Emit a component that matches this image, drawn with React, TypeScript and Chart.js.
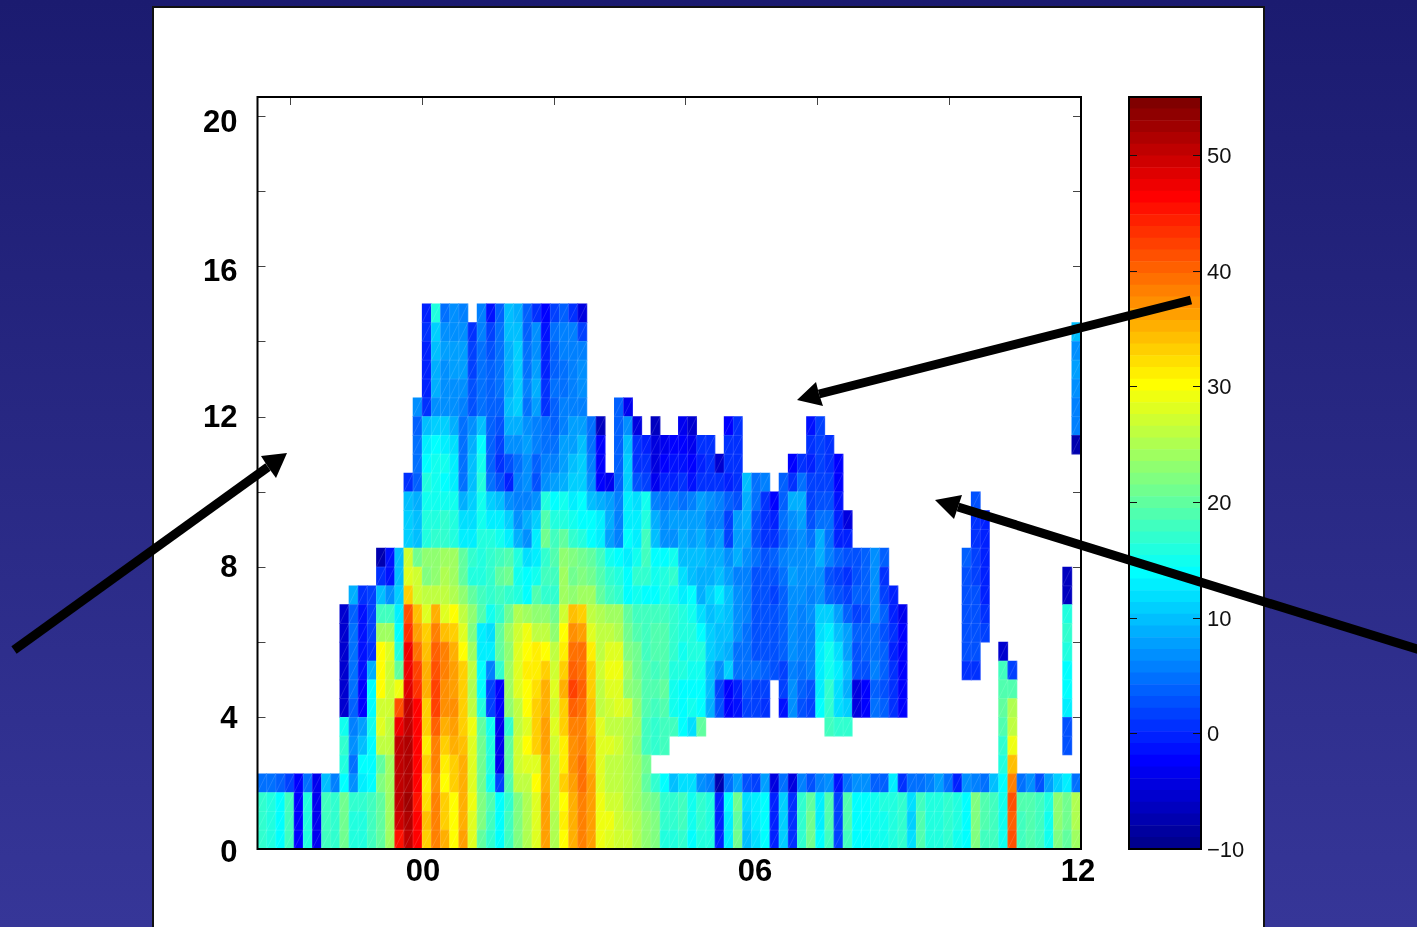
import React, { useEffect, useRef } from "react";
import { Chart, registerables } from "chart.js";

Chart.register(...registerables);

const _ = null;

// Reflectivity (dBZ) per height bin, lowest bin first, 90 time columns each.
const row00 = [17,16,14,18,-2,16,-3,18,17,21, 16,16,18,20,24,45,50,46,33,38, 35,30,36,28,20,17,14,18,22,25, 28,36,25,30,35,38,36,29,28,27, 27,25,23,22,16,16,17,14,16,16, 0,13,21,10,12,14,0,11,1,17, 21,14,18,2,18,14,14,15,15,16, 17,12,19,16,16,17,15,14,22,18, 18,15,41,18,19,18,15,22,20,24];
const row01 = [17,16,14,18,-2,16,-3,18,17,21, 16,16,18,20,24,49,51,46,34,38, 33,30,35,28,22,18,14,18,22,25, 28,36,25,31,35,38,36,29,29,27, 26,25,23,22,17,17,18,15,17,16, 0,13,20,11,13,14,0,11,1,17, 21,13,19,2,19,14,14,15,15,16, 17,11,19,16,16,17,16,14,22,19, 18,15,40,18,19,18,15,23,21,25];
const row02 = [17,16,14,18,-2,16,-3,18,17,21, 17,17,18,20,24,50,52,45,32,38, 33,30,35,29,22,19,14,17,22,25, 28,36,26,30,35,38,36,29,27,27, 25,24,22,21,17,17,18,15,17,16, 0,14,21,12,13,14,0,11,1,17, 20,13,19,2,19,14,14,15,16,16, 17,12,18,16,16,17,16,14,22,19, 18,15,41,19,19,18,16,23,21,25];
const row03 = [5,5,4,2,-2,5,-3,10,6,14, 7,13,14,22,24,50,51,46,31,37, 30,33,35,28,21,15,2,19,26,26, 30,35,26,33,36,39,36,28,26,26, 25,24,20,17,14,10,12,12,7,6, -7,5,8,3,2,8,-4,5,-4,6, 3,6,7,-1,5,7,7,4,4,13, 1,5,5,6,8,5,0,7,6,5, 10,14,38,5,7,3,8,11,13,5];
const row04 = [_,_,_,_,_,_,_,_,_,16, 5,14,14,20,24,50,51,46,33,38, 31,33,35,28,21,16,-3,20,27,28, 28,35,26,31,37,39,35,28,26,26, 25,24,21,_,_,_,_,_,_,_, _,_,_,_,_,_,_,_,_,_, _,_,_,_,_,_,_,_,_,_, _,_,_,_,_,_,_,_,_,_, _,16,34,_,_,_,_,_,_,_];
const row05 = [_,_,_,_,_,_,_,_,_,17, 7,10,14,26,26,50,51,46,31,38, 33,35,34,28,21,16,-3,20,27,30, 33,36,27,31,37,38,35,28,28,27, 25,23,18,17,18,_,_,_,_,_, _,_,_,_,_,_,_,_,_,_, _,_,_,_,_,_,_,_,_,_, _,_,_,_,_,_,_,_,_,_, _,17,29,_,_,_,_,_,3,_];
const row06 = [_,_,_,_,_,_,_,_,_,15, 6,8,15,28,26,47,50,46,33,40, 35,36,33,29,20,15,-3,17,26,28, 33,36,28,33,38,38,34,28,26,26, 25,24,18,17,18,18,14,12,20,_, _,_,_,_,_,_,_,_,_,_, _,_,18,17,17,_,_,_,_,_, _,_,_,_,_,_,_,_,_,_, _,19,26,_,_,_,_,_,3,_];
const row07 = [_,_,_,_,_,_,_,_,_,-5, 4,-2,14,27,27,41,50,46,33,42, 37,37,33,26,16,2,-2,23,26,30, 33,35,27,33,40,39,34,26,27,28, 27,23,19,18,19,15,14,15,14,9, 3,-2,-1,2,2,1,_,-1,7,3, 2,14,17,12,11,-4,-2,5,4,1, -2,_,_,_,_,_,_,_,_,_, _,20,25,_,_,_,_,_,13,_];
const row08 = [_,_,_,_,_,_,_,_,_,-5, 5,-2,14,30,27,29,48,43,35,42, 37,36,33,25,14,2,-2,24,28,30, 32,35,28,35,42,40,33,26,28,28, 23,22,19,19,20,15,14,14,14,10, 2,-2,0,3,2,2,_,2,7,4, 3,13,17,12,9,-4,-2,4,3,1, -2,_,_,_,_,_,_,_,_,_, _,19,19,_,_,_,_,_,14,_];
const row09 = [_,_,_,_,_,_,_,_,_,-5, 5,-1,9,30,27,20,47,42,35,41, 38,36,33,26,14,6,17,24,28,31, 31,33,27,33,40,39,33,27,29,29, 24,21,19,18,19,16,16,15,15,10, 7,11,5,5,5,4,3,2,6,5, 6,13,15,13,10,3,3,6,4,1, -2,_,_,_,_,_,_,1,1,_, _,18,2,_,_,_,_,_,14,_];
const row10 = [_,_,_,_,_,_,_,_,_,-5, 5,-1,1,30,28,16,47,39,34,40, 38,35,30,24,13,13,20,23,28,30, 31,30,26,31,39,39,31,26,28,28, 22,21,18,19,19,17,15,16,16,11, 10,9,5,5,3,3,3,4,7,6, 6,13,15,12,8,3,4,5,4,0, -2,_,_,_,_,_,_,3,3,_, _,-5,_,_,_,_,_,_,16,_];
const row11 = [_,_,_,_,_,_,_,_,_,-5, 5,-1,2,24,24,14,43,36,33,38, 34,33,28,22,13,12,20,24,27,29, 26,26,23,30,37,36,28,26,26,25, 21,19,18,19,19,17,16,16,14,11, 10,10,7,5,3,3,3,4,7,6, 6,12,13,10,8,4,4,5,3,1, -2,_,_,_,_,_,_,3,3,2, _,_,_,_,_,_,_,_,17,_];
const row12 = [_,_,_,_,_,_,_,_,_,-5, 4,-1,2,18,18,13,41,34,28,35, 28,30,26,23,19,15,17,21,25,24, 23,23,21,27,34,33,26,25,24,24, 20,18,18,18,18,17,16,15,12,10, 11,10,7,6,3,3,3,4,7,6, 7,11,11,8,4,2,3,7,4,0, -3,_,_,_,_,_,_,3,3,1, _,_,_,_,_,_,_,_,16,_];
const row13 = [_,_,_,_,_,_,_,_,_,_, 9,1,2,10,7,11,33,27,26,26, 26,25,23,20,18,17,18,17,16,14, 19,17,17,24,23,24,24,20,18,17, 14,15,14,14,16,15,13,14,9,11, 13,10,7,6,3,3,2,4,7,7, 6,7,4,3,2,4,4,7,2,0, _,_,_,_,_,_,_,3,3,0, _,_,_,_,_,_,_,_,-6,_];
const row14 = [_,_,_,_,_,_,_,_,_,_, _,_,_,1,-1,10,28,27,22,23, 25,24,20,16,16,17,20,21,15,14, 15,18,18,24,21,22,21,19,17,16, 14,17,17,15,16,17,12,10,9,9, 10,8,6,6,3,3,3,5,8,7, 7,7,3,2,1,3,4,7,1,_, _,_,_,_,_,_,_,3,2,0, _,_,_,_,_,_,_,_,-6,_];
const row15 = [_,_,_,_,_,_,_,_,_,_, _,_,_,-7,-1,10,27,21,23,23, 24,24,20,17,16,17,18,19,16,12, 13,17,19,23,22,21,20,18,15,14, 13,15,18,14,14,15,10,10,10,9, 9,7,9,7,5,3,4,6,7,7, 7,9,6,4,3,3,4,7,4,_, _,_,_,_,_,_,_,4,2,0];
const row16 = [_,_,_,_,_,_,_,_,_,_, _,_,_,_,_,_,11,10,16,17, 17,16,13,13,16,16,15,13,9,7, 13,21,18,20,17,16,14,13,8,6, 14,13,18,10,7,7,9,8,9,7, 8,2,8,8,3,1,1,4,6,7, 5,9,5,0,0,_,_,_,_,_, _,_,_,_,_,_,_,_,1,0];
const row17 = [_,_,_,_,_,_,_,_,_,_, _,_,_,_,_,_,11,10,16,16, 17,16,12,12,15,13,13,11,7,9, 11,19,16,16,15,14,14,13,9,6, 13,13,16,9,7,8,8,8,8,6, 6,2,8,9,3,1,0,5,7,8, 3,5,5,0,-4,_,_,_,_,_, _,_,_,_,_,_,_,_,1,0];
const row18 = [_,_,_,_,_,_,_,_,_,_, _,_,_,_,_,_,10,9,15,15, 15,15,9,11,15,11,10,7,6,6, 7,16,14,15,13,14,10,9,8,6, 13,12,15,6,5,6,5,6,8,7, 6,4,3,9,5,1,-2,4,9,9, 2,3,3,-1,_,_,_,_,_,_, _,_,_,_,_,_,_,_,3,_];
const row19 = [_,_,_,_,_,_,_,_,_,_, _,_,_,_,_,_,1,4,16,15, 14,13,5,10,16,5,3,0,6,7, 3,7,8,9,11,11,7,-2,-3,4, 11,3,2,-3,0,0,1,-1,1,1, 1,0,1,10,5,6,_,4,1,5, 2,2,2,-2];
const row20 = [_,_,_,_,_,_,_,_,_,_, _,_,_,_,_,_,_,5,14,15, 15,13,5,10,15,4,1,3,5,7, 4,6,6,8,10,11,6,-2,_,4, 11,1,1,-4,-2,-1,-1,-2,0,1, -5,1,1,_,_,_,_,_,-2,1, 0,2,1,-2];
const row21 = [_,_,_,_,_,_,_,_,_,_, _,_,_,_,_,_,_,5,13,14, 13,12,5,9,14,4,2,7,7,8, 6,5,5,8,8,10,5,-2,_,4, 10,1,0,-4,-3,-2,-2,-3,1,1, _,1,1,_,_,_,_,_,_,_, 1,2,1,_,_,_,_,_,_,_, _,_,_,_,_,_,_,_,_,_, _,_,_,_,_,_,_,_,_,-7];
const row22 = [_,_,_,_,_,_,_,_,_,_, _,_,_,_,_,_,_,4,10,11, 11,9,5,7,10,4,3,9,9,7, 6,5,4,6,8,8,5,-6,_,4, 7,-4,_,-6,_,_,-3,-5,_,_, _,-2,1,_,_,_,_,_,_,_, -1,2,_,_,_,_,_,_,_,_, _,_,_,_,_,_,_,_,_,_, _,_,_,_,_,_,_,_,_,6];
const row23 = [_,_,_,_,_,_,_,_,_,_, _,_,_,_,_,_,_,7,1,7, 7,7,6,3,5,4,4,10,11,5, 8,1,4,6,6,6,_,_,_,4, -3,_,_,_,_,_,_,_,_,_, _,_,_,_,_,_,_,_,_,_, _,_,_,_,_,_,_,_,_,_, _,_,_,_,_,_,_,_,_,_, _,_,_,_,_,_,_,_,_,6];
const row24 = [_,_,_,_,_,_,_,_,_,_, _,_,_,_,_,_,_,_,0,9, 7,7,7,3,5,4,5,9,11,6, 9,1,5,5,6,7,_,_,_,_, _,_,_,_,_,_,_,_,_,_, _,_,_,_,_,_,_,_,_,_, _,_,_,_,_,_,_,_,_,_, _,_,_,_,_,_,_,_,_,_, _,_,_,_,_,_,_,_,_,7];
const row25 = [_,_,_,_,_,_,_,_,_,_, _,_,_,_,_,_,_,_,0,9, 7,8,8,2,5,4,5,9,11,5, 8,0,4,5,6,7,_,_,_,_, _,_,_,_,_,_,_,_,_,_, _,_,_,_,_,_,_,_,_,_, _,_,_,_,_,_,_,_,_,_, _,_,_,_,_,_,_,_,_,_, _,_,_,_,_,_,_,_,_,8];
const row26 = [_,_,_,_,_,_,_,_,_,_, _,_,_,_,_,_,_,_,0,10, 8,8,8,2,5,3,5,9,11,5, 7,0,4,6,6,6,_,_,_,_, _,_,_,_,_,_,_,_,_,_, _,_,_,_,_,_,_,_,_,_, _,_,_,_,_,_,_,_,_,_, _,_,_,_,_,_,_,_,_,_, _,_,_,_,_,_,_,_,_,7];
const row27 = [_,_,_,_,_,_,_,_,_,_, _,_,_,_,_,_,_,_,1,11, 7,7,7,1,6,2,5,10,10,4, 7,-1,5,6,6,2,_,_,_,_, _,_,_,_,_,_,_,_,_,_, _,_,_,_,_,_,_,_,_,_, _,_,_,_,_,_,_,_,_,_, _,_,_,_,_,_,_,_,_,_, _,_,_,_,_,_,_,_,_,10];
const row28 = [_,_,_,_,_,_,_,_,_,_, _,_,_,_,_,_,_,_,0,16, 5,7,6,_,6,-1,4,10,9,4, 1,-2,2,4,1,-4];

const rows = [row00,row01,row02,row03,row04,row05,row06,row07,row08,row09,row10,row11,row12,row13,row14,row15,row16,row17,row18,row19,row20,row21,row22,row23,row24,row25,row26,row27,row28];

const columnCount = 90;
const rowBottomKm = 0.5;
const rowDepthKm = 0.5;

// Axis text and marks
const yTickLabels = ["0", "4", "8", "12", "16", "20"];
const yLabelAnchors = [0.38, 3.94, 7.95, 11.95, 15.83, 19.79];
const yMarkValues = [2, 4, 6, 8, 10, 12, 14, 16, 18, 20];
const xTickLabels = ["00", "06", "12"];
const xLabelAnchors = [17.59, 53.87, 89.17];
const xMarkValues = [3.05, 17.45, 31.85, 46.25, 60.65, 75.05];
const colorbarMin = -10;
const colorbarMax = 55;
const colorbarLevels = 64;

const clamp01 = (v: number) => Math.max(0, Math.min(1, v));
function jetLevel(i: number) {
  const f = (i + 1) / colorbarLevels;
  const c = (k: number) => Math.round(255 * clamp01(1.5 - Math.abs(4 * f - k)));
  return `rgb(${c(3)},${c(2)},${c(1)})`;
}
function jetValue(v: number) {
  const i = Math.floor(((v - colorbarMin) / (colorbarMax - colorbarMin)) * colorbarLevels);
  return jetLevel(Math.max(0, Math.min(colorbarLevels - 1, i)));
}

const FONT = "'Liberation Sans', Arial, sans-serif";

const heatPlugin = {
  id: "heatFrame",
  beforeDatasetsDraw(chart: any) {
    const { ctx, chartArea: a, scales } = chart;
    ctx.save();
    ctx.strokeStyle = "#444";
    ctx.lineWidth = 1;
    ctx.beginPath();
    for (const v of yMarkValues) {
      const y = Math.round(scales.y.getPixelForValue(v)) + 0.5;
      ctx.moveTo(a.left, y);
      ctx.lineTo(a.left + 8, y);
      ctx.moveTo(a.right, y);
      ctx.lineTo(a.right - 8, y);
    }
    for (const v of xMarkValues) {
      const x = Math.round(scales.x.getPixelForValue(v)) + 0.5;
      ctx.moveTo(x, a.top);
      ctx.lineTo(x, a.top + 8);
      ctx.moveTo(x, a.bottom);
      ctx.lineTo(x, a.bottom - 8);
    }
    ctx.stroke();
    ctx.restore();
  },
  afterDatasetsDraw(chart: any) {
    const { ctx, chartArea: a } = chart;
    ctx.save();
    ctx.lineWidth = 0.6;
    ctx.strokeStyle = "rgba(255,255,255,0.22)";
    ctx.beginPath();
    chart.data.datasets.forEach((_d: any, i: number) => {
      chart.getDatasetMeta(i).data.forEach((bar: any) => {
        if (bar.skip || !Number.isFinite(bar.y) || !Number.isFinite(bar.base)) return;
        const l = bar.x - bar.width / 2;
        const r = bar.x + bar.width / 2;
        ctx.moveTo(l, bar.base);
        ctx.lineTo(r, bar.y);
        ctx.moveTo(l, bar.base);
        ctx.lineTo(r, bar.base);
        ctx.moveTo(r, bar.y);
        ctx.lineTo(r, bar.base);
      });
    });
    ctx.stroke();
    ctx.strokeStyle = "#000";
    ctx.lineWidth = 2;
    ctx.strokeRect(a.left, a.top, a.right - a.left, a.bottom - a.top);
    ctx.restore();
  },
};

const colorbarPlugin = {
  id: "cbFrame",
  afterDatasetsDraw(chart: any) {
    const { ctx, chartArea: a, scales } = chart;
    ctx.save();
    ctx.strokeStyle = "#111";
    ctx.lineWidth = 1;
    ctx.beginPath();
    scales.y.ticks.forEach((t: any) => {
      const y = Math.round(scales.y.getPixelForValue(t.value)) + 0.5;
      ctx.moveTo(a.left, y);
      ctx.lineTo(a.left + 8, y);
      ctx.moveTo(a.right, y);
      ctx.lineTo(a.right - 8, y);
    });
    ctx.stroke();
    ctx.strokeStyle = "#000";
    ctx.lineWidth = 2;
    ctx.strokeRect(a.left, a.top, a.right - a.left, a.bottom - a.top);
    ctx.restore();
  },
};

function Arrow({ from, tip, wingA, wingB, neck }: { from: number[]; tip: number[]; wingA: number[]; wingB: number[]; neck: number[] }) {
  return (
    <g>
      <line x1={from[0]} y1={from[1]} x2={neck[0]} y2={neck[1]} stroke="#000" strokeWidth={9} />
      <polygon points={`${tip} ${wingA} ${neck} ${wingB}`} fill="#000" />
    </g>
  );
}

export default function App() {
  const heatRef = useRef<HTMLCanvasElement>(null);
  const barRef = useRef<HTMLCanvasElement>(null);

  useEffect(() => {
    const labels = Array.from({ length: columnCount }, (_v, i) => String(i));
    const datasets = rows.map((row, r) => {
      const lo = rowBottomKm + r * rowDepthKm;
      return {
        label: `${lo} km`,
        data: labels.map((_l, c) => (row[c] === null || row[c] === undefined ? null : [lo, lo + rowDepthKm])),
        backgroundColor: labels.map((_l, c) => (row[c] === null || row[c] === undefined ? "transparent" : jetValue(row[c] as number))),
        borderWidth: 0,
        grouped: false,
        barPercentage: 1,
        categoryPercentage: 1,
      };
    });

    const heat = new Chart(heatRef.current!, {
      type: "bar",
      data: { labels, datasets } as any,
      plugins: [heatPlugin],
      options: {
        animation: false,
        responsive: false,
        devicePixelRatio: 1,
        layout: { padding: { left: 197.5, right: 336, top: 97, bottom: 38 } },
        plugins: { legend: { display: false }, tooltip: { enabled: false } },
        scales: {
          x: {
            type: "category",
            grid: { display: false, drawTicks: false },
            border: { display: false },
            afterBuildTicks(s: any) {
              s.ticks = xLabelAnchors.map((value) => ({ value }));
            },
            afterFit(s: any) {
              s.height = 40;
            },
            ticks: {
              autoSkip: false,
              maxRotation: 0,
              padding: 5,
              color: "#000",
              font: { family: FONT, size: 31, weight: "bold" },
              callback: (_v: any, i: number) => xTickLabels[i],
            },
          },
          y: {
            type: "linear",
            min: 0.5,
            max: 20.5,
            grid: { display: false, drawTicks: false },
            border: { display: false },
            afterBuildTicks(s: any) {
              s.ticks = yLabelAnchors.map((value) => ({ value }));
            },
            afterFit(s: any) {
              s.width = 60;
            },
            ticks: {
              autoSkip: false,
              padding: 20,
              color: "#000",
              font: { family: FONT, size: 31, weight: "bold" },
              callback: (_v: any, i: number) => yTickLabels[i],
            },
          },
        },
      } as any,
    });

    const step = (colorbarMax - colorbarMin) / colorbarLevels;
    const bar = new Chart(barRef.current!, {
      type: "bar",
      data: {
        labels: ["dBZ"],
        datasets: Array.from({ length: colorbarLevels }, (_v, i) => ({
          label: String(i),
          data: [[colorbarMin + i * step, colorbarMin + (i + 1) * step]],
          backgroundColor: jetLevel(i),
          borderWidth: 0,
          grouped: false,
          barPercentage: 1,
          categoryPercentage: 1,
        })),
      } as any,
      plugins: [colorbarPlugin],
      options: {
        animation: false,
        responsive: false,
        devicePixelRatio: 1,
        layout: { padding: { left: 29, right: 39, top: 97, bottom: 78 } },
        plugins: { legend: { display: false }, tooltip: { enabled: false } },
        scales: {
          x: { display: false },
          y: {
            type: "linear",
            position: "right",
            min: colorbarMin,
            max: colorbarMax,
            grid: { display: false, drawTicks: false },
            border: { display: false },
            afterFit(s: any) {
              s.width = 60;
            },
            ticks: {
              stepSize: 10,
              includeBounds: false,
              padding: 6,
              labelOffset: 2,
              color: "#111",
              font: { family: FONT, size: 22 },
              callback: (v: any) => (v < 0 ? "\u2212" + Math.abs(v) : String(v)),
            },
          },
        },
      } as any,
    });

    return () => {
      heat.destroy();
      bar.destroy();
    };
  }, []);

  return (
    <div
      style={{
        position: "fixed",
        left: 0,
        top: 0,
        width: 1417,
        height: 927,
        overflow: "hidden",
        background: "linear-gradient(180deg, #1b1b70 0%, #363698 100%)",
      }}
    >
      <div
        style={{
          position: "absolute",
          left: 152,
          top: 6,
          width: 1113,
          height: 940,
          boxSizing: "border-box",
          background: "#fff",
          border: "2px solid #111",
        }}
      />
      <canvas ref={heatRef} width={1417} height={927} style={{ position: "absolute", left: 0, top: 0 }} />
      <canvas ref={barRef} width={200} height={927} style={{ position: "absolute", left: 1100, top: 0 }} />
      <svg width={1417} height={927} style={{ position: "absolute", left: 0, top: 0 }}>
        <Arrow from={[1191, 300]} tip={[797, 400]} wingA={[816, 382]} wingB={[823, 406]} neck={[819, 394]} />
        <Arrow from={[14, 650]} tip={[287, 453]} wingA={[261, 456]} wingB={[276, 478]} neck={[268, 467]} />
        <Arrow from={[1420, 650]} tip={[935, 500]} wingA={[962, 495]} wingB={[954, 519]} neck={[958, 507]} />
      </svg>
    </div>
  );
}
